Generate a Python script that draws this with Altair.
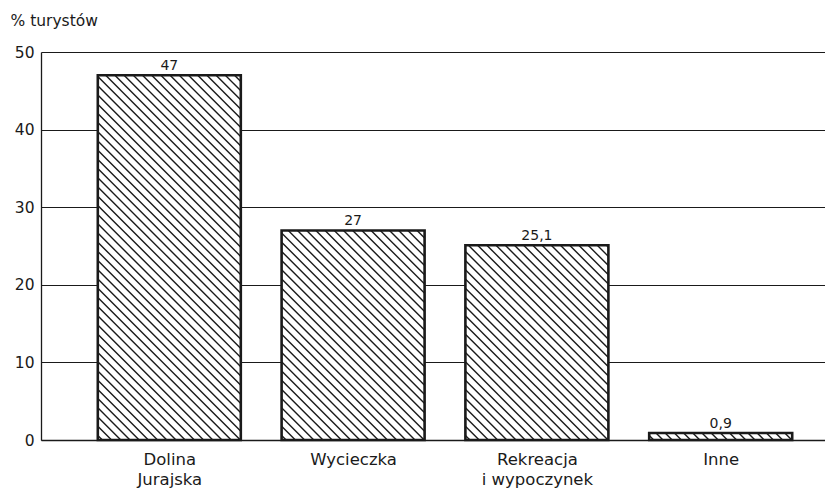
import json
import altair as alt
import pandas as pd

# ---- data ----
categories = ["Dolina\nJurajska", "Wycieczka", "Rekreacja\ni wypoczynek", "Inne"]
values = [47, 27, 25.1, 0.9]
y_ticks = [0, 10, 20, 30, 40, 50]
y_title = "% turystów"

# ---- layout constants ----
W, H = 784, 388
STEP_PX = 183.8            # distance between bar centres in pixels
X0 = 128.3 / STEP_PX       # first bar centre (in slot units)
HALF = 71.5 / STEP_PX      # half bar width (in slot units)
XMAX = W / STEP_PX
YMAX = 50
px_x = W / XMAX
px_y = H / YMAX
FONT = "DejaVu Sans"
INK = "#1a1a1a"

bars = pd.DataFrame({
    "pos": [X0 + i for i in range(len(values))],
    "value": values,
    "label": [f"{v:g}".replace(".", ",") for v in values],
})
bars["x0"] = bars["pos"] - HALF
bars["x1"] = bars["pos"] + HALF
bars["zero"] = 0.0

# diagonal hatching ("\\\\") derived from each bar's extent
spacing = 9.2
rows = []
for _, b in bars.iterrows():
    w = (b.x1 - b.x0) * px_x
    h = b.value * px_y
    c = spacing / 2
    while c < w + h:
        u0 = max(0.0, c - h)
        u1 = min(w, c)
        rows.append({
            "hx": b.x0 + u0 / px_x, "hy": (c - u0) / px_y,
            "hx2": b.x0 + u1 / px_x, "hy2": (c - u1) / px_y,
        })
        c += spacing
hatch = pd.DataFrame(rows)

label_list = json.dumps([c.replace("\n", "|") for c in categories], ensure_ascii=False)
label_expr = f"split({label_list}[round(datum.value - {X0})], '|')"

xscale = alt.Scale(domain=[0, XMAX], nice=False, zero=False)
yscale = alt.Scale(domain=[0, YMAX], nice=False)

xaxis = alt.Axis(
    values=list(bars["pos"]), labelExpr=label_expr, title=None,
    ticks=False, grid=False, domain=True, domainColor=INK, domainWidth=1.3,
    labelFont=FONT, labelFontSize=16.5, labelColor=INK, labelPadding=11,
    labelLineHeight=20, labelBaseline="top",
)
yaxis = alt.Axis(
    values=y_ticks, title=y_title, ticks=False, grid=True,
    gridColor=INK, gridWidth=1.1, domain=True, domainColor=INK, domainWidth=1.3,
    labelFont=FONT, labelFontSize=15.5, labelColor=INK, labelPadding=7,
    titleFont=FONT, titleFontSize=15.5, titleFontWeight="normal", titleColor=INK,
    titleAngle=0, titleAlign="left", titleBaseline="alphabetic",
    titleX=-31, titleY=-27,
)

fill = alt.Chart(bars).mark_rect(fill="white").encode(
    x=alt.X("x0:Q", scale=xscale, axis=xaxis),
    x2="x1:Q",
    y=alt.Y("value:Q", scale=yscale, axis=yaxis),
    y2="zero:Q",
)

lines = alt.Chart(hatch).mark_rule(color=INK, strokeWidth=1.4).encode(
    x=alt.X("hx:Q", scale=xscale, axis=xaxis),
    x2="hx2:Q",
    y=alt.Y("hy:Q", scale=yscale, axis=yaxis),
    y2="hy2:Q",
)

outline = alt.Chart(bars).mark_rect(fillOpacity=0, stroke=INK, strokeWidth=2.6).encode(
    x=alt.X("x0:Q", scale=xscale, axis=xaxis),
    x2="x1:Q",
    y=alt.Y("value:Q", scale=yscale, axis=yaxis),
    y2="zero:Q",
)

text = alt.Chart(bars).mark_text(
    font=FONT, fontSize=14, color=INK, baseline="alphabetic", dy=-5
).encode(
    x=alt.X("pos:Q", scale=xscale, axis=xaxis),
    y=alt.Y("value:Q", scale=yscale, axis=yaxis),
    text="label:N",
)

chart = alt.layer(fill, lines, outline, text).properties(
    width=W, height=H,
    autosize=alt.AutoSizeParams(type="none"),
    padding={"left": 33, "top": 44, "right": 0, "bottom": 52},
    background="white",
).configure_view(stroke=None)

chart.save("out.html", embed_options={"renderer": "svg", "actions": False})
